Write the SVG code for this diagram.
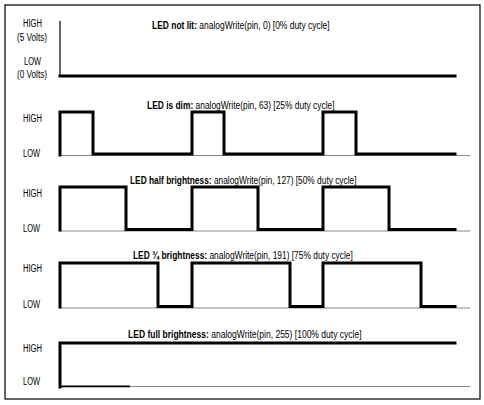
<svg xmlns="http://www.w3.org/2000/svg" width="484" height="405" viewBox="0 0 484 405">
<style>
text{font-family:"Liberation Sans",Arial,sans-serif;font-size:10.5px;fill:#000}
.b{font-weight:bold}
.lbl{font-size:10px}
.wave{fill:none;stroke:#000;stroke-width:3;stroke-linejoin:miter;stroke-linecap:square}
.base{fill:none;stroke:#8a8a8a;stroke-width:1.2}
.axis{fill:none;stroke:#333;stroke-width:1.5}
</style>
<rect x="5" y="5" width="475" height="394" fill="#fff" stroke="#000" stroke-width="1.2"/>
<g id="panel1">
  <text transform="translate(152 29) scale(0.805 1)"><tspan class="b">LED not lit: </tspan><tspan>analogWrite(pin, 0) [0% duty cycle]</tspan></text>
  <text class="lbl" x="23" y="26.5" textLength="19" lengthAdjust="spacingAndGlyphs">HIGH</text>
  <text class="lbl" x="17" y="40.5" textLength="30" lengthAdjust="spacingAndGlyphs">(5 Volts)</text>
  <text class="lbl" x="24" y="64.5" textLength="17" lengthAdjust="spacingAndGlyphs">LOW</text>
  <text class="lbl" x="17" y="77.5" textLength="30" lengthAdjust="spacingAndGlyphs">(0 Volts)</text>
</g>
<g id="panel2">
  <text transform="translate(147 108.5) scale(0.801 1)"><tspan class="b">LED is dim: </tspan><tspan>analogWrite(pin, 63) [25% duty cycle]</tspan></text>
  <text class="lbl" x="23" y="121.5" textLength="19" lengthAdjust="spacingAndGlyphs">HIGH</text>
  <text class="lbl" x="23" y="156.5" textLength="17" lengthAdjust="spacingAndGlyphs">LOW</text>
</g>
<g id="panel3">
  <text transform="translate(130 183.5) scale(0.796 1)"><tspan class="b">LED half brightness: </tspan><tspan>analogWrite(pin, 127) [50% duty cycle]</tspan></text>
  <text class="lbl" x="23" y="196.5" textLength="19" lengthAdjust="spacingAndGlyphs">HIGH</text>
  <text class="lbl" x="23" y="231.5" textLength="17" lengthAdjust="spacingAndGlyphs">LOW</text>
</g>
<g id="panel4">
  <text transform="translate(133 258.5) scale(0.799 1)"><tspan class="b">LED ¾ brightness: </tspan><tspan>analogWrite(pin, 191) [75% duty cycle]</tspan></text>
  <text class="lbl" x="23" y="271.5" textLength="19" lengthAdjust="spacingAndGlyphs">HIGH</text>
  <text class="lbl" x="23" y="307.5" textLength="17" lengthAdjust="spacingAndGlyphs">LOW</text>
</g>
<g id="panel5">
  <text transform="translate(128 337.5) scale(0.812 1)"><tspan class="b">LED full brightness: </tspan><tspan>analogWrite(pin, 255) [100% duty cycle]</tspan></text>
  <text class="lbl" x="23" y="351.5" textLength="19" lengthAdjust="spacingAndGlyphs">HIGH</text>
  <text class="lbl" x="23" y="384.5" textLength="17" lengthAdjust="spacingAndGlyphs">LOW</text>
</g>
<g id="connectors">
  <path class="axis" d="M60 21 V76"/>
  <path class="wave" d="M60 76 H455"/>
  <path class="base" d="M60 155.5 H470"/>
  <path class="wave" d="M60 155 V112 H93 V154 H192 V112 H224 V154 H323 V112 H356 V154 H455"/>
  <path class="base" d="M60 231 H470"/>
  <path class="wave" d="M60 230 V187 H126 V229.5 H192 V187 H258 V229.5 H323 V187 H389 V229.5 H455"/>
  <path class="base" d="M60 308 H470"/>
  <path class="wave" d="M60 307 V263 H158 V306.5 H192 V263 H290 V306.5 H323 V263 H421 V306.5 H455"/>
  <path class="base" d="M130 386.5 H470"/>
  <path fill="none" stroke="#000" stroke-width="1.8" d="M60 386.3 H130"/>
  <path class="wave" d="M60 387 V343 H455"/>
</g>
</svg>
